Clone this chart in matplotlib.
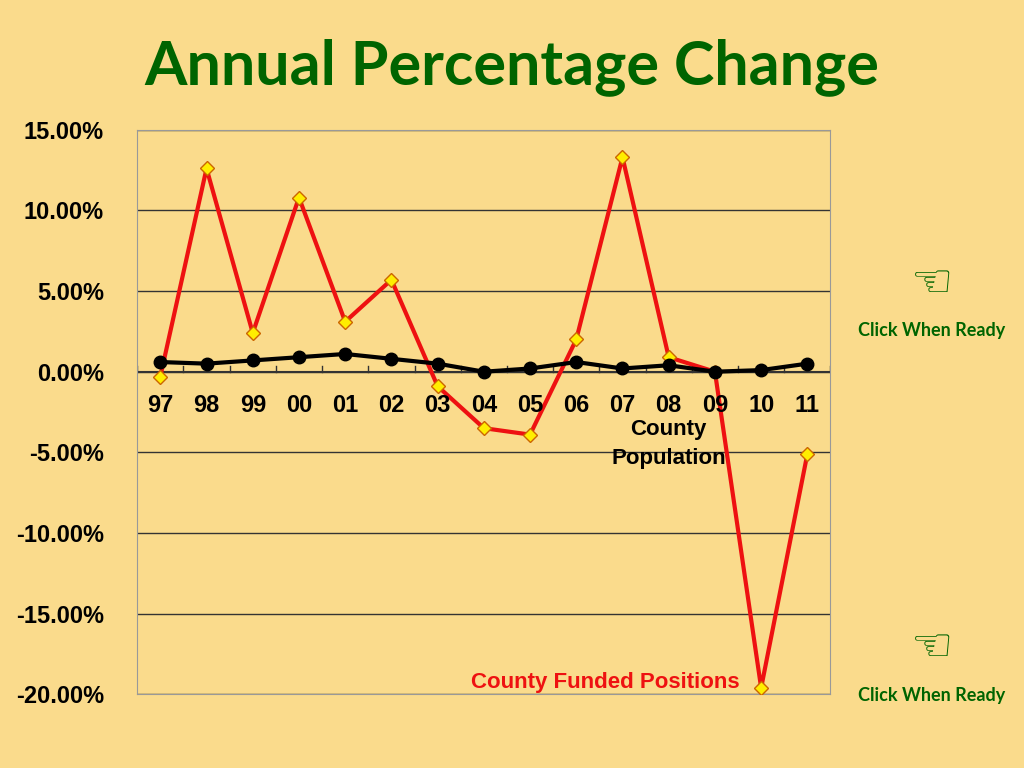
import matplotlib.pyplot as plt
from matplotlib.ticker import FuncFormatter

plt.rcParams['font.family'] = ['Liberation Sans', 'DejaVu Sans']

years = ['97', '98', '99', '00', '01', '02', '03', '04', '05', '06', '07', '08', '09', '10', '11']
funded_positions = [-0.3, 12.6, 2.4, 10.8, 3.1, 5.7, -0.9, -3.5, -3.9, 2.0, 13.3, 0.9, 0.0, -19.6, -5.1]
county_population = [0.6, 0.5, 0.7, 0.9, 1.1, 0.8, 0.5, 0.0, 0.2, 0.6, 0.2, 0.4, 0.0, 0.1, 0.5]

bg = '#FADB8C'
fig = plt.figure(figsize=(10.24, 7.68), dpi=100, facecolor=bg)
ax = fig.add_axes([0.134, 0.096, 0.677, 0.735], facecolor=bg)

x = list(range(len(years)))
ax.plot(x, funded_positions, color='#EE1111', lw=3, marker='D', ms=7,
        mfc='#FFEE00', mec='#CC6600', mew=1, zorder=3)
ax.plot(x, county_population, color='black', lw=3, marker='o', ms=9, zorder=4)

ax.set_xlim(-0.5, 14.5)
ax.set_ylim(-20, 15)
ax.set_yticks(range(-20, 16, 5))
ax.yaxis.set_major_formatter(FuncFormatter(lambda v, p: f'{v:.2f}%'))
ax.grid(axis='y', color='#333333', lw=1)
ax.axhline(0, color='#333333', lw=1.5)
ax.set_xticks([])
for xi, lab in zip(x, years):
    ax.text(xi, -1.4, lab, ha='center', va='top', fontsize=17, fontweight='bold', zorder=5)
for i in range(len(years) + 1):
    ax.plot([i - 0.5, i - 0.5], [0, 0.35], color='#333333', lw=1)
for s in ax.spines.values():
    s.set_color('#999999')
ax.tick_params(axis='y', length=0, labelsize=17, pad=24)
for t in ax.get_yticklabels():
    t.set_fontweight('bold')

ax.text(11, -3.6, 'County', ha='center', va='center', fontsize=16, fontweight='bold')
ax.text(11, -5.4, 'Population', ha='center', va='center', fontsize=16, fontweight='bold')
ax.text(9.63, -19.3, 'County Funded Positions', ha='center', va='center',
        fontsize=16, fontweight='bold', color='#EE1111')

fig.text(0.5, 0.912, 'Annual Percentage Change', ha='center', va='center',
         fontsize=44, fontweight='bold', color='#006400', family='Lato')
for yy in (0.57, 0.095):
    fig.text(0.91, yy + 0.06, '☜', ha='center', va='center', fontsize=34, color='#006400',
             family='DejaVu Sans')
    fig.text(0.91, yy, 'Click When Ready', ha='center', va='center', fontsize=13,
             fontweight='bold', color='#006400', family='Lato')

fig.savefig('out.png', dpi=100, facecolor=bg)
